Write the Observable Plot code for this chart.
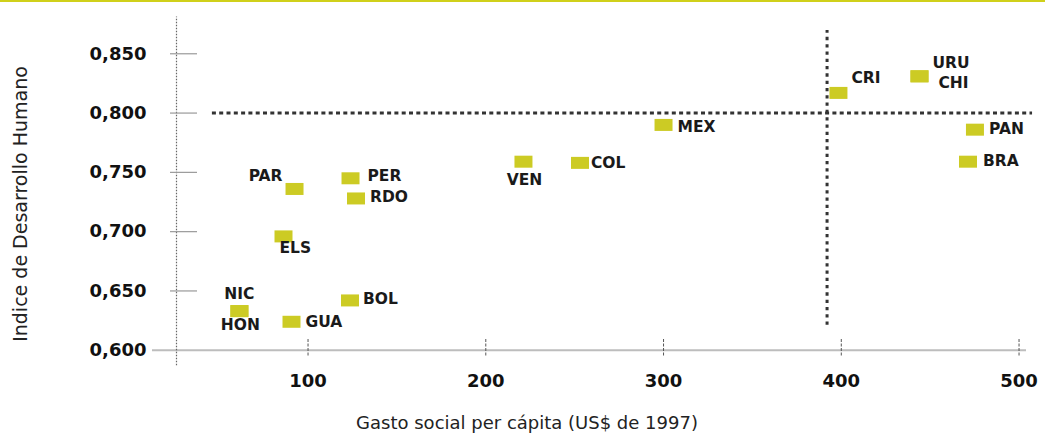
<!DOCTYPE html>
<html><head><meta charset="utf-8">
<script src="https://cdn.jsdelivr.net/npm/d3@7"></script>
<script src="https://cdn.jsdelivr.net/npm/@observablehq/plot@0.6"></script>
<style>
html,body{margin:0;padding:0;background:#fff;}
#topline{position:absolute;left:0;top:0;width:1045px;height:2px;background:#d0d01a;}
#chart{position:absolute;left:0;top:0;}
g[aria-label="etiquetas"] text{letter-spacing:1px;}
</style></head><body>
<div id="chart"></div>
<div id="topline"></div>
<script>
// ---- data ----
const paises = ["PAR","ELS","NIC","HON","GUA","BOL","PER","RDO","VEN","COL","MEX","CRI","URU","CHI","PAN","BRA"];
const gasto  = [92.4, 86.2, 61.4, 61.4, 90.7, 123.6, 123.9, 127.0, 221.2, 253.0, 300.0, 398.4, 444.0, 444.0, 475.2, 471.3];
const idh    = [0.736, 0.696, 0.633, 0.633, 0.624, 0.642, 0.745, 0.728, 0.759, 0.758, 0.790, 0.817, 0.831, 0.831, 0.786, 0.759];
const xTicks = [100, 200, 300, 400, 500];
const yTicks = [0.650, 0.700, 0.750, 0.800, 0.850];
const yTickLabels = [0.600, 0.650, 0.700, 0.750, 0.800, 0.850];
const umbralIDH = 0.800;
const umbralGasto = 392;
const xTitle = "Gasto social per cápita (US$ de 1997)";
const yTitle = "Indice de Desarrollo Humano";

// ---- layout / style ----
const xDomain = [12.5, 504.2];
const yDomain = [0.59, 0.88];
const ejeVertical = 26;
const placement = {
  PAR:{a:"end",dx:-12,dy:-13}, ELS:{a:"start",dx:-4,dy:12}, NIC:{a:"middle",dx:0,dy:-17},
  HON:{a:"middle",dx:1,dy:14}, GUA:{a:"start",dx:14,dy:0}, BOL:{a:"start",dx:13,dy:-1},
  PER:{a:"start",dx:17,dy:-2}, RDO:{a:"start",dx:14,dy:-1}, VEN:{a:"middle",dx:1,dy:18},
  COL:{a:"start",dx:11,dy:0}, MEX:{a:"start",dx:14,dy:2}, CRI:{a:"start",dx:13,dy:-15},
  URU:{a:"start",dx:13,dy:-13}, CHI:{a:"start",dx:19,dy:7}, PAN:{a:"start",dx:14,dy:-1},
  BRA:{a:"start",dx:15,dy:-1}
};
const amarillo = "#cccb24";
const font = "DejaVu Sans";
const fmt = d => d.toFixed(3).replace(".", ",");

const data = paises.map((p, i) => ({pais: p, gasto: gasto[i], idh: idh[i]}));
const rectSymbol = {draw(ctx) { ctx.rect(-9, -6, 18, 12); }};

const W = 1045, H = 435, mL = 152, mR = 19, mT = 17.7, mB = 73.4;
const frameCx = (mL + (W - mR)) / 2, frameCy = (mT + (H - mB)) / 2;

const chart = Plot.plot({
  width: W, height: H,
  marginLeft: mL, marginRight: mR, marginTop: mT, marginBottom: mB,
  style: {fontFamily: font, color: "#111", background: "transparent"},
  x: {domain: xDomain, axis: null},
  y: {domain: yDomain, axis: null},
  marks: [
    // axis lines
    Plot.ruleY([yDomain[0] + 0.01], {stroke: "#bdbdbd", strokeWidth: 2}),
    Plot.ruleX([ejeVertical], {y1: 0.587, y2: 0.881, stroke: "#666", strokeWidth: 1.2, strokeDasharray: "1.5,1.5"}),
    // y tick marks
    Plot.axisY(yTicks, {tickSize: 27, dx: 45, tickFormat: () => "", label: null, stroke: "#999", strokeWidth: 1.2}),
    // x tick marks
    Plot.axisX(xTicks, {tickSize: 18, dy: -22.6, tickFormat: () => "", label: null, stroke: "#555", strokeWidth: 1, strokeDasharray: "3,1.5"}),
    // tick labels
    Plot.axisY(yTickLabels, {tickSize: 0, tickPadding: 6, tickFormat: fmt, fontSize: 18, fontWeight: "bold", label: null}),
    Plot.axisX(xTicks, {tickSize: 0, tickPadding: 12, fontSize: 18, fontWeight: "bold", label: null}),
    // reference lines
    Plot.ruleY([umbralIDH], {x1: 46.2, x2: 507.6, stroke: "#333", strokeWidth: 3, strokeDasharray: "4,3.3"}),
    Plot.ruleX([umbralGasto], {y1: 0.621, y2: 0.8696, stroke: "#333", strokeWidth: 3, strokeDasharray: "3.3,4"}),
    // points
    Plot.dot(data, {x: "gasto", y: "idh", symbol: rectSymbol, fill: amarillo, r: 5}),
    // labels
    ...data.map(d => Plot.text([d], {
      x: "gasto", y: "idh", text: "pais",
      textAnchor: placement[d.pais].a, dx: placement[d.pais].dx, dy: placement[d.pais].dy,
      fontSize: 15.5, fontWeight: "bold", fill: "#1a1a1a", ariaLabel: "etiquetas"
    })),
    // titles
    Plot.text([xTitle], {frameAnchor: "bottom", text: d => d, textAnchor: "middle", lineAnchor: "middle",
      dx: 526.5 - frameCx, dy: 61.4, fontSize: 18, fill: "#222"}),
    Plot.text([yTitle], {frameAnchor: "left", text: d => d, textAnchor: "middle", lineAnchor: "middle", rotate: -90,
      dx: 20 - mL, dy: 203.5 - frameCy, fontSize: 19, fill: "#222"})
  ]
});
document.getElementById("chart").appendChild(chart);
</script>
</body></html>
